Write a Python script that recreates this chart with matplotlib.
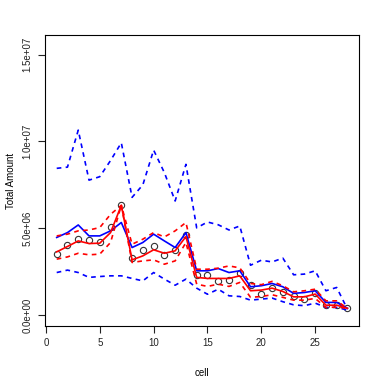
import numpy as np
import matplotlib
matplotlib.use("Agg")
import matplotlib.pyplot as plt

# cell index
cell = np.arange(1, 29)

# observed totals (open circles), in millions
observed = [3.50, 4.02, 4.37, 4.31, 4.18, 5.10, 6.32, 3.26, 3.74, 3.95,
            3.47, 3.75, 4.60, 2.30, 2.30, 1.97, 2.03, 2.40, 1.74, 1.21,
            1.55, 1.34, 1.07, 0.92, 1.30, 0.57, 0.57, 0.39]

# red: estimate and its band
red_mid = [3.64, 3.95, 4.27, 4.12, 4.14, 4.75, 6.32, 3.18, 3.41, 3.76,
           3.56, 3.70, 4.52, 2.17, 2.11, 2.11, 2.11, 2.26, 1.40, 1.44,
           1.55, 1.36, 1.05, 1.05, 1.21, 0.57, 0.57, 0.39]
red_hi = [4.56, 4.66, 4.85, 4.90, 5.04, 5.80, 6.32, 4.08, 4.37, 4.75,
          4.50, 4.85, 5.33, 2.64, 2.64, 2.70, 2.83, 2.72, 1.82, 1.75,
          1.94, 1.69, 1.34, 1.40, 1.49, 0.82, 0.82, 0.39]
red_lo = [3.22, 3.35, 3.56, 3.47, 3.51, 4.18, 6.32, 3.03, 3.12, 3.18,
          2.93, 3.12, 4.18, 1.78, 1.65, 1.78, 1.65, 1.88, 1.02, 1.07,
          1.17, 1.02, 0.86, 0.86, 0.96, 0.44, 0.46, 0.39]

# blue: estimate and its band
blue_mid = [4.47, 4.75, 5.19, 4.56, 4.56, 4.85, 5.33, 3.89, 4.18, 4.66,
            4.27, 3.89, 4.75, 2.55, 2.55, 2.68, 2.45, 2.55, 1.63, 1.69,
            1.82, 1.63, 1.25, 1.30, 1.40, 0.73, 0.73, 0.39]
blue_hi = [8.45, 8.52, 10.65, 7.77, 7.97, 8.90, 9.92, 6.78, 7.50, 9.50,
           8.20, 6.57, 8.68, 5.02, 5.36, 5.20, 4.90, 5.13, 2.87, 3.16,
           3.06, 3.28, 2.32, 2.36, 2.55, 1.40, 1.59, 0.34]
blue_lo = [2.45, 2.59, 2.45, 2.17, 2.22, 2.26, 2.26, 2.11, 1.97, 2.45,
           2.07, 1.72, 2.07, 1.55, 1.20, 1.49, 1.11, 1.07, 0.86, 0.92,
           0.98, 0.77, 0.59, 0.54, 0.69, 0.44, 0.44, 0.29]

plt.rcParams["font.family"] = ["Liberation Sans", "DejaVu Sans"]

fig = plt.figure(figsize=(3.82, 3.82), dpi=100)
ax = fig.add_axes([0.118, 0.147, 0.822, 0.761])

def m(v):
    return np.array(v) * 1e6

lw = 1.2
ax.plot(cell, m(observed), "o", mfc="none", mec="#333333", ms=4.5, mew=0.8)
for vals, col, dashed in [(blue_hi, "blue", True), (blue_lo, "blue", True),
                          (blue_mid, "blue", False),
                          (red_hi, "red", True), (red_lo, "red", True),
                          (red_mid, "red", False)]:
    line, = ax.plot(cell, m(vals), color=col, lw=lw)
    if dashed:
        line.set_dashes((2.8, 2.6))

ax.set_xlim(-0.08, 29.08)
ax.set_ylim(-0.62e6, 16.12e6)
ax.set_xticks([0, 5, 10, 15, 20, 25])
ax.set_yticks([0, 5e6, 1e7, 1.5e7])
ax.set_yticklabels(["0.0e+00", "5.0e+06", "1.0e+07", "1.5e+07"],
                   rotation=90, va="center")
ax.tick_params(labelsize=7, length=5, width=0.8, pad=4, colors="#222222")
for s in ax.spines.values():
    s.set_linewidth(0.8)

ax.set_xlabel("cell", fontsize=7, labelpad=14)
ax.set_ylabel("Total Amount", fontsize=7, labelpad=5)

fig.savefig("out.png", dpi=100)
